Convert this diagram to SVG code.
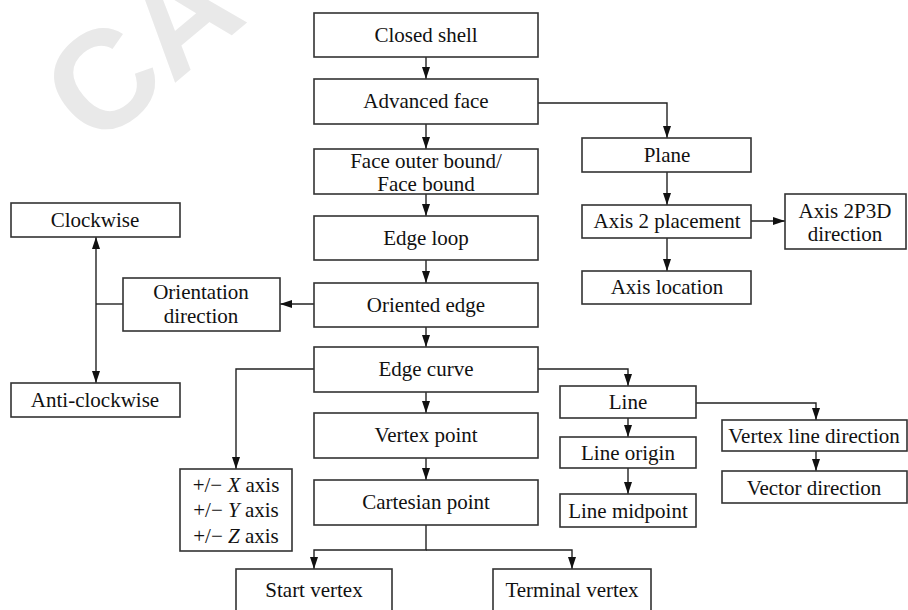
<svg xmlns="http://www.w3.org/2000/svg" width="908" height="610" viewBox="0 0 908 610">
<style>
.box{fill:#fff;stroke:#333;stroke-width:1.6}
.t{font-family:"Liberation Serif","Times New Roman",serif;font-size:21px;fill:#111;text-anchor:middle}
.c{fill:none;stroke:#222;stroke-width:1.4}
.wm{font-family:"Liberation Sans",Arial,sans-serif;font-weight:bold;font-size:140px;fill:#e9e9e9}
</style>
<defs>
<marker id="ah" markerUnits="userSpaceOnUse" markerWidth="12" markerHeight="8" refX="12" refY="4" orient="auto">
<path d="M0,0 L12,4 L0,8 z" fill="#111"/>
</marker>
<marker id="ahs" markerUnits="userSpaceOnUse" markerWidth="12" markerHeight="8" refX="12" refY="4" orient="auto-start-reverse">
<path d="M0,0 L12,4 L0,8 z" fill="#111"/>
</marker>
</defs>
<rect width="908" height="610" fill="#fff"/>
<text class="wm" transform="translate(95,150) rotate(-40)">CA</text>
<g id="connectors">
<line class="c" x1="426" y1="57" x2="426" y2="79" marker-end="url(#ah)"/>
<line class="c" x1="426" y1="124" x2="426" y2="149" marker-end="url(#ah)"/>
<line class="c" x1="426" y1="194" x2="426" y2="216" marker-end="url(#ah)"/>
<line class="c" x1="426" y1="260" x2="426" y2="283" marker-end="url(#ah)"/>
<line class="c" x1="426" y1="327" x2="426" y2="347" marker-end="url(#ah)"/>
<line class="c" x1="426" y1="392" x2="426" y2="413" marker-end="url(#ah)"/>
<line class="c" x1="426" y1="458" x2="426" y2="480" marker-end="url(#ah)"/>
<polyline class="c" points="426,525 426,550 314,550 314,569" marker-end="url(#ah)"/>
<polyline class="c" points="426,550 572,550 572,569" marker-end="url(#ah)"/>
<polyline class="c" points="538,103 667,103 667,138" marker-end="url(#ah)"/>
<line class="c" x1="667" y1="172" x2="667" y2="205" marker-end="url(#ah)"/>
<line class="c" x1="667" y1="238" x2="667" y2="271" marker-end="url(#ah)"/>
<line class="c" x1="751" y1="221" x2="785" y2="221" marker-end="url(#ah)"/>
<line class="c" x1="314" y1="304" x2="280" y2="304" marker-end="url(#ah)"/>
<line class="c" x1="123" y1="304" x2="96" y2="304"/>
<line class="c" x1="96" y1="237" x2="96" y2="383" marker-start="url(#ahs)" marker-end="url(#ah)"/>
<polyline class="c" points="314,369 236,369 236,469" marker-end="url(#ah)"/>
<polyline class="c" points="538,369 628,369 628,386" marker-end="url(#ah)"/>
<line class="c" x1="628" y1="418" x2="628" y2="437" marker-end="url(#ah)"/>
<line class="c" x1="628" y1="468" x2="628" y2="494" marker-end="url(#ah)"/>
<polyline class="c" points="696,403 816,403 816,420" marker-end="url(#ah)"/>
<line class="c" x1="816" y1="451" x2="816" y2="471" marker-end="url(#ah)"/>
</g>
<g id="closed-shell"><rect class="box" x="314" y="13" width="224" height="44"/><text class="t" x="426" y="42">Closed shell</text></g>
<g id="advanced-face"><rect class="box" x="314" y="79" width="224" height="45"/><text class="t" x="426" y="108">Advanced face</text></g>
<g id="face-bound"><rect class="box" x="314" y="149" width="224" height="45"/><text class="t" x="426" y="168">Face outer bound/</text><text class="t" x="426" y="191">Face bound</text></g>
<g id="edge-loop"><rect class="box" x="314" y="216" width="224" height="44"/><text class="t" x="426" y="245">Edge loop</text></g>
<g id="oriented-edge"><rect class="box" x="314" y="283" width="224" height="44"/><text class="t" x="426" y="312">Oriented edge</text></g>
<g id="edge-curve"><rect class="box" x="314" y="347" width="224" height="45"/><text class="t" x="426" y="376">Edge curve</text></g>
<g id="vertex-point"><rect class="box" x="314" y="413" width="224" height="45"/><text class="t" x="426" y="442">Vertex point</text></g>
<g id="cartesian-point"><rect class="box" x="314" y="480" width="224" height="45"/><text class="t" x="426" y="509">Cartesian point</text></g>
<g id="start-vertex"><rect class="box" x="236" y="569" width="156" height="50"/><text class="t" x="314" y="597">Start vertex</text></g>
<g id="terminal-vertex"><rect class="box" x="493" y="569" width="158" height="50"/><text class="t" x="572" y="597">Terminal vertex</text></g>
<g id="plane"><rect class="box" x="582" y="138" width="169" height="34"/><text class="t" x="667" y="162">Plane</text></g>
<g id="axis2-placement"><rect class="box" x="582" y="205" width="169" height="33"/><text class="t" x="667" y="228">Axis 2 placement</text></g>
<g id="axis-location"><rect class="box" x="582" y="271" width="169" height="33"/><text class="t" x="667" y="294">Axis location</text></g>
<g id="axis2p3d"><rect class="box" x="785" y="194" width="121" height="55"/><text class="t" x="845" y="218">Axis 2P3D</text><text class="t" x="845" y="241">direction</text></g>
<g id="orientation-direction"><rect class="box" x="123" y="278" width="157" height="53"/><text class="t" x="201" y="299">Orientation</text><text class="t" x="201" y="323">direction</text></g>
<g id="clockwise"><rect class="box" x="11" y="203" width="169" height="34"/><text class="t" x="95" y="227">Clockwise</text></g>
<g id="anti-clockwise"><rect class="box" x="11" y="383" width="169" height="34"/><text class="t" x="95" y="407">Anti-clockwise</text></g>
<g id="axes"><rect class="box" x="180" y="469" width="112" height="82"/>
<text class="t" x="236" y="492">+/− <tspan font-style="italic">X</tspan> axis</text>
<text class="t" x="236" y="517">+/− <tspan font-style="italic">Y</tspan> axis</text>
<text class="t" x="236" y="543">+/− <tspan font-style="italic">Z</tspan> axis</text></g>
<g id="line"><rect class="box" x="560" y="386" width="136" height="32"/><text class="t" x="628" y="409">Line</text></g>
<g id="line-origin"><rect class="box" x="560" y="437" width="136" height="31"/><text class="t" x="628" y="460">Line origin</text></g>
<g id="line-midpoint"><rect class="box" x="560" y="494" width="136" height="33"/><text class="t" x="628" y="518">Line midpoint</text></g>
<g id="vertex-line-direction"><rect class="box" x="722" y="420" width="185" height="31"/><text class="t" x="814" y="443">Vertex line direction</text></g>
<g id="vector-direction"><rect class="box" x="722" y="471" width="185" height="32"/><text class="t" x="814" y="495">Vector direction</text></g>
</svg>
